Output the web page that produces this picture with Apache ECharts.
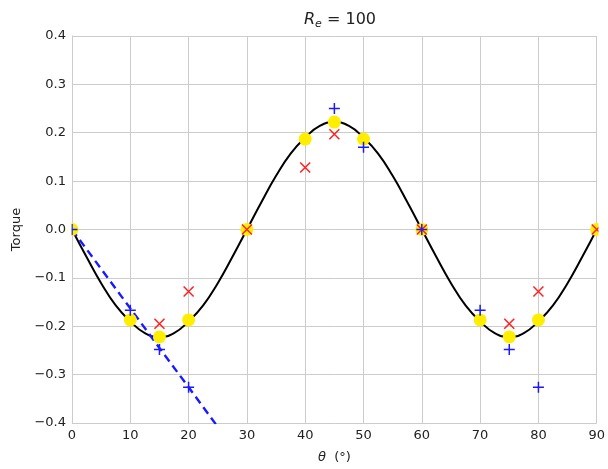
<!DOCTYPE html>
<html>
<head>
<meta charset="utf-8">
<script src="https://cdn.jsdelivr.net/npm/echarts@6/dist/echarts.min.js"></script>
<style>html,body{margin:0;padding:0;background:#fff}#c{width:608px;height:469px}</style>
</head>
<body>
<div id="c"></div>
<script>
// Smooth curve, values every 2.5 degrees
const curveTheta = [0,2.5,5,7.5,10,12.5,15,17.5,20,22.5,25,27.5,30,32.5,35,37.5,40,42.5,45,47.5,50,52.5,55,57.5,60,62.5,65,67.5,70,72.5,75,77.5,80,82.5,85,87.5,90];
const curveTorque = [0,-0.057,-0.111,-0.157,-0.19,-0.214,-0.222,-0.214,-0.19,-0.157,-0.111,-0.057,0,0.057,0.111,0.157,0.19,0.214,0.222,0.214,0.19,0.157,0.111,0.057,0,-0.057,-0.111,-0.157,-0.19,-0.214,-0.222,-0.214,-0.19,-0.157,-0.111,-0.057,0];

const yellowTheta = [0,10,15,20,30,40,45,50,60,70,75,80,90];
const yellowTorque = [0,-0.187,-0.222,-0.187,0,0.187,0.222,0.187,0,-0.187,-0.222,-0.187,0];

const redTheta = [15,20,30,40,45,60,75,80,90];
const redTorque = [-0.195,-0.128,0,0.128,0.197,0,-0.195,-0.128,0];

const blueTheta = [0,10,15,20,45,50,60,70,75,80];
const blueTorque = [0,-0.167,-0.248,-0.326,0.25,0.17,0,-0.167,-0.248,-0.326];

const dashTheta = [0,10,15,20,25,30];
const dashTorque = [0,-0.163,-0.245,-0.326,-0.408,-0.49];

const xTicks = [0,10,20,30,40,50,60,70,80,90];
const yTicks = [-0.4,-0.3,-0.2,-0.1,0.0,0.1,0.2,0.3,0.4];

const zip = (a,b) => a.map((v,i)=>[v,b[i]]);
const font = 'DejaVu Sans';
const txt = '#222';
const chart = echarts.init(document.getElementById('c'));
chart.setOption({
  animation: false,
  backgroundColor: '#fff',
  title: {
    text: '{i|R}{s|e}{n| = 100}',
    left: 335, top: 5, textAlign: 'center',
    textStyle: {
      fontWeight: 'normal',
      rich: {
        i: {fontFamily: font, fontStyle: 'italic', fontWeight: 'normal', fontSize: 16, color: txt},
        s: {fontFamily: font, fontStyle: 'italic', fontWeight: 'normal', fontSize: 11, color: txt, verticalAlign: 'bottom', padding: [9,0,0,0]},
        n: {fontFamily: font, fontWeight: 'normal', fontSize: 16, color: txt}
      }
    }
  },
  grid: {left: 72, right: 10, top: 36, bottom: 40, containLabel: false},
  xAxis: {
    type: 'value', min: 0, max: 90, interval: 10,
    name: '{i|θ}{n|  (°)}', nameLocation: 'middle', nameGap: 28,
    nameTextStyle: {rich: {
      i: {fontFamily: font, fontStyle: 'italic', fontSize: 13, color: txt},
      n: {fontFamily: font, fontSize: 13, color: txt}
    }},
    axisLine: {show: true, lineStyle: {color: '#cccccc', width: 1}},
    axisTick: {show: false},
    axisLabel: {fontFamily: font, fontSize: 13, color: txt, margin: 6,
      formatter: v => xTicks.includes(v) ? String(v) : ''},
    splitLine: {show: true, lineStyle: {color: '#cccccc', width: 1}}
  },
  yAxis: {
    type: 'value', min: -0.4, max: 0.4, interval: 0.1,
    name: 'Torque', nameLocation: 'middle', nameGap: 48,
    nameTextStyle: {fontFamily: font, fontSize: 13, color: txt},
    axisLine: {show: true, lineStyle: {color: '#cccccc', width: 1}},
    axisTick: {show: false},
    axisLabel: {fontFamily: font, fontSize: 13, color: txt, margin: 6,
      formatter: v => {
        const r = Math.round(v*10)/10;
        const t = yTicks.find(k => Math.abs(k - r) < 1e-9);
        if (t === undefined) return '';
        return (t < 0 ? '\u2212' : '') + Math.abs(t).toFixed(1);
      }},
    splitLine: {show: true, lineStyle: {color: '#cccccc', width: 1}}
  },
  graphic: {
    elements: [
      {type: 'rect', zlevel: 1, z: 100, shape: {x: 66, y: 26, width: 5.5, height: 404}, style: {fill: '#ffffff'}, silent: true},
      {type: 'rect', zlevel: 1, z: 100, shape: {x: 598.5, y: 26, width: 10, height: 404}, style: {fill: '#ffffff'}, silent: true}
    ]
  },
  series: [
    {type: 'line', data: zip(curveTheta, curveTorque), smooth: true, showSymbol: false,
     lineStyle: {color: '#000', width: 2}, z: 2},
    {type: 'line', data: zip(dashTheta, dashTorque), showSymbol: false, clip: true,
     lineStyle: {color: '#1a1aff', width: 2.4, type: [8,5]}, z: 3},
    {type: 'scatter', data: zip(yellowTheta, yellowTorque), symbol: 'circle', symbolSize: 13,
     itemStyle: {color: '#ffee00', opacity: 1}, z: 4},
    {type: 'scatter', data: zip(redTheta, redTorque), symbol: 'path://M0,0L10,10M10,0L0,10', symbolSize: 10,
     itemStyle: {color: 'none', borderColor: '#ff2020', borderWidth: 1.5, opacity: 1}, z: 5},
    {type: 'scatter', data: zip(blueTheta, blueTorque), symbol: 'path://M5,0L5,10M0,5L10,5', symbolSize: 11,
     itemStyle: {color: 'none', borderColor: '#1a1aff', borderWidth: 1.5, opacity: 1}, z: 6}
  ]
});
</script>
</body>
</html>
